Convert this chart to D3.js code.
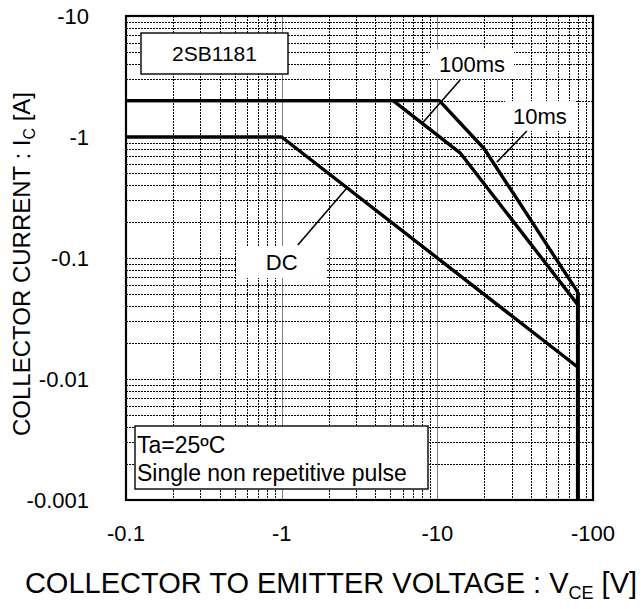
<!DOCTYPE html>
<html>
<head>
<meta charset="utf-8">
<script src="https://cdn.jsdelivr.net/npm/d3@7"></script>
<style>
  body { margin: 0; background: #fff; }
  text { font-family: "Liberation Sans", Arial, sans-serif; fill: #000; }
</style>
</head>
<body>
<div class="chart"></div>
<script>
const w = 643;
const h = 609;

// tick labels
const xTicks = [-0.1, -1, -10, -100];
const yTicks = [-10, -1, -0.1, -0.01, -0.001];

// safe operating area curves (V, I)
const dcV = [-0.1, -1, -80];
const dcI = [-1, -1, -0.0125];
const ms100V = [-0.1, -5.2, -14, -80];
const ms100I = [-2, -2, -0.74, -0.041];
const ms10V = [-0.1, -10.3, -20, -80];
const ms10I = [-2, -2, -0.8, -0.052];
const vceoV = [-80, -80];
const vceoI = [-0.052, -0.001];

const m = {left: 126, right: 593, top: 16, bottom: 500};

const svg = d3.select(".chart")
  .append("svg")
  .attr("width", w)
  .attr("height", h);

const x = d3.scaleLog().domain([-0.1, -100]).range([m.left, m.right]);
const y = d3.scaleLog().domain([-0.001, -10]).range([m.bottom, m.top]);

const isDecade = v => Math.abs(Math.log10(Math.abs(v)) - Math.round(Math.log10(Math.abs(v)))) < 1e-6;
const px = v => Math.round(v) + 0.5;

// grid
const grid = svg.append("g").attr("shape-rendering", "crispEdges");
grid.selectAll(".vx")
  .data(x.ticks().filter(v => !isDecade(v)))
  .enter().append("line")
  .attr("x1", d => px(x(d))).attr("x2", d => px(x(d)))
  .attr("y1", m.top).attr("y2", m.bottom)
  .attr("stroke", "#000").attr("stroke-width", 1).attr("stroke-dasharray", "2,1");
grid.selectAll(".vd")
  .data(xTicks.slice(1, -1))
  .enter().append("line")
  .attr("x1", d => px(x(d))).attr("x2", d => px(x(d)))
  .attr("y1", m.top).attr("y2", m.bottom)
  .attr("stroke", "#808080").attr("stroke-width", 1.5);
grid.selectAll(".hy")
  .data(y.ticks().filter(v => v !== -10 && v !== -0.001))
  .enter().append("line")
  .attr("x1", m.left).attr("x2", m.right)
  .attr("y1", d => px(y(d))).attr("y2", d => px(y(d)))
  .attr("stroke", "#000").attr("stroke-width", 1).attr("stroke-dasharray", "2,1");

// white patches under labels
function patch(cx, cy, hw, hh) {
  svg.append("rect")
    .attr("x", cx - hw).attr("y", cy - hh)
    .attr("width", 2 * hw).attr("height", 2 * hh)
    .attr("fill", "#fff");
}
const labels = [
  {t: "100ms", v: -16.7, i: -4.0, hw: 42, hh: 15},
  {t: "10ms", v: -45.6, i: -1.49, hw: 35, hh: 15},
  {t: "DC", v: -1.0, i: -0.0927, hw: 45, hh: 16}
];
labels.forEach(d => patch(x(d.v), y(d.i), d.hw, d.hh));

// curves
const line = d3.line().x(d => x(d[0])).y(d => y(d[1]));
const curves = [
  d3.zip(dcV, dcI),
  d3.zip(ms100V, ms100I),
  d3.zip(ms10V, ms10I)
];
svg.selectAll(".soa")
  .data(curves)
  .enter().append("path")
  .attr("d", line)
  .attr("fill", "none")
  .attr("stroke", "#000")
  .attr("stroke-width", 3.4)
  .attr("stroke-linejoin", "round");
svg.append("path")
  .attr("d", line(d3.zip(vceoV, vceoI)))
  .attr("fill", "none")
  .attr("stroke", "#000")
  .attr("stroke-width", 4);

// leader lines
const leaders = [
  [[-14, -2.96], [-8, -1.3]],
  [[-37.6, -1.12], [-24.1, -0.62]],
  [[-1.27, -0.128], [-2.63, -0.38]]
];
svg.selectAll(".leader")
  .data(leaders)
  .enter().append("path")
  .attr("d", line)
  .attr("stroke", "#000")
  .attr("stroke-width", 1.6);

svg.selectAll(".lab")
  .data(labels)
  .enter().append("text")
  .attr("x", d => x(d.v)).attr("y", d => y(d.i)).attr("dy", "0.36em")
  .attr("text-anchor", "middle").attr("font-size", 22)
  .text(d => d.t);

// part number box
svg.append("rect")
  .attr("x", m.left + 15).attr("y", m.top + 17)
  .attr("width", 147).attr("height", 41)
  .attr("fill", "#fff").attr("stroke", "#000").attr("stroke-width", 1.4);
svg.append("text")
  .attr("x", m.left + 15 + 73.5).attr("y", m.top + 17 + 20.5).attr("dy", "0.36em")
  .attr("text-anchor", "middle").attr("font-size", 21).text("2SB1181");

// condition box
svg.append("rect")
  .attr("x", m.left + 9).attr("y", 426)
  .attr("width", 293).attr("height", 63)
  .attr("fill", "#fff").attr("stroke", "#000").attr("stroke-width", 1.4);
svg.append("text").attr("x", m.left + 11).attr("y", 453)
  .attr("font-size", 23).text("Ta=25ºC");
svg.append("text").attr("x", m.left + 11).attr("y", 481)
  .attr("font-size", 23).text("Single non repetitive pulse");

// frame
svg.append("rect")
  .attr("x", m.left).attr("y", m.top)
  .attr("width", m.right - m.left).attr("height", m.bottom - m.top)
  .attr("fill", "none").attr("stroke", "#000").attr("stroke-width", 2.2);

// tick labels
svg.selectAll(".xl")
  .data(xTicks)
  .enter().append("text")
  .attr("x", d => x(d)).attr("y", 533)
  .attr("dy", "0.36em")
  .attr("text-anchor", "middle").attr("font-size", 22)
  .text(d => d);
svg.selectAll(".yl")
  .data(yTicks)
  .enter().append("text")
  .attr("x", 89).attr("y", d => y(d))
  .attr("dy", "0.36em")
  .attr("text-anchor", "end").attr("font-size", 22)
  .text(d => d);

// axis titles
const xt = svg.append("text")
  .attr("x", 331).attr("y", 593)
  .attr("text-anchor", "middle").attr("font-size", 29);
xt.append("tspan").text("COLLECTOR TO EMITTER VOLTAGE : V");
xt.append("tspan").attr("font-size", 18).attr("dy", 6).text("CE");
xt.append("tspan").attr("dy", -6).text(" [V]");

const yt = svg.append("text")
  .attr("transform", "translate(30,264) rotate(-90)")
  .attr("text-anchor", "middle").attr("font-size", 24);
yt.append("tspan").text("COLLECTOR CURRENT : I");
yt.append("tspan").attr("font-size", 16).attr("dy", 5).text("C");
yt.append("tspan").attr("dy", -5).text(" [A]");
</script>
</body>
</html>
